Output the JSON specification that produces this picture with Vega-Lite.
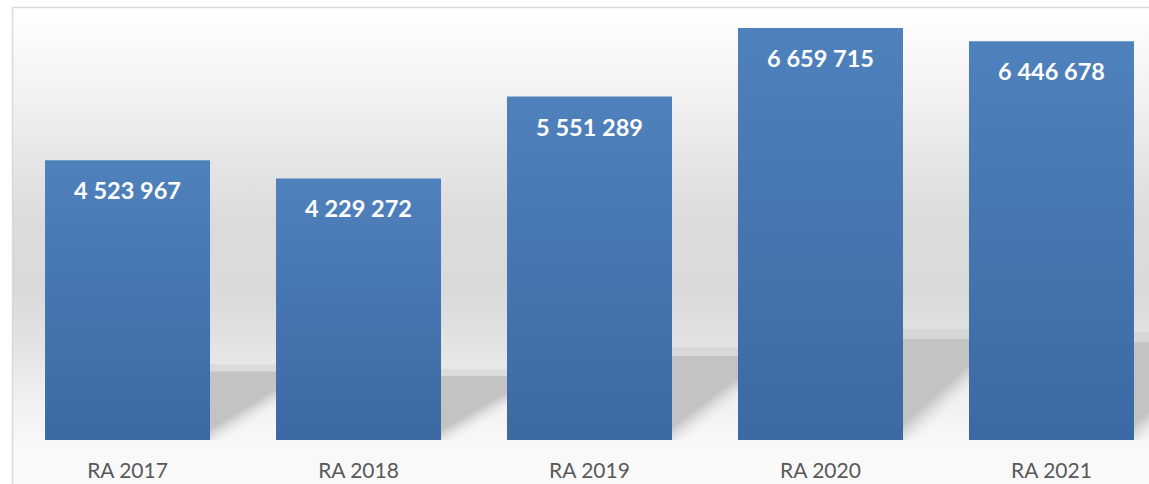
{
  "$schema": "https://vega.github.io/schema/vega-lite/v6.json",
  "width": 1137,
  "height": 477,
  "autosize": {"type": "none"},
  "padding": {"left": 12, "top": 7, "right": 0, "bottom": 0},
  "background": "#ffffff",
  "config": {
    "font": "Lato",
    "locale": {"number": {"decimal": ",", "thousands": " ", "grouping": [3], "currency": ["", ""]}},
    "view": {
      "stroke": null,
      "fill": {
        "gradient": "linear", "x1": 0, "y1": 0, "x2": 0, "y2": 1,
        "stops": [
          {"offset": 0, "color": "#ffffff"},
          {"offset": 0.195, "color": "#f1f1f1"},
          {"offset": 0.45, "color": "#dbdbdb"},
          {"offset": 0.6, "color": "#dadada"},
          {"offset": 0.72, "color": "#e4e4e4"},
          {"offset": 0.83, "color": "#f1f1f1"},
          {"offset": 0.91, "color": "#f8f8f8"},
          {"offset": 1, "color": "#fafafa"}
        ]
      }
    }
  },
  "data": {
    "values": [
      {"year": "RA 2017", "value": 4523967},
      {"year": "RA 2018", "value": 4229272},
      {"year": "RA 2019", "value": 5551289},
      {"year": "RA 2020", "value": 6659715},
      {"year": "RA 2021", "value": 6446678}
    ]
  },
  "layer": [
    {
      "mark": {
        "type": "bar",
        "xOffset": 70,
        "clip": true,
        "opacity": 0.35,
        "fill": {
          "gradient": "linear", "x1": 0.3935, "y1": 0.86, "x2": 0.8065, "y2": 1.14,
          "stops": [
            {"offset": 0, "color": "rgba(195,195,195,1)"},
            {"offset": 0.3, "color": "rgba(195,195,195,1)"},
            {"offset": 0.7, "color": "rgba(248,248,248,0)"},
            {"offset": 1, "color": "rgba(248,248,248,0)"}
          ]
        }
      },
      "encoding": {
        "x": {"field": "year", "type": "nominal", "sort": null, "axis": null,
              "scale": {"paddingInner": 0.2857, "paddingOuter": 0.104, "align": 0.6875, "round": false}},
        "y": {"field": "value", "type": "quantitative", "axis": null,
              "scale": {"domain": [-2634074, 25925926], "zero": false, "nice": false}},
        "y2": {"datum": 0}
      }
    },
    {
      "mark": {
        "type": "bar",
        "xOffset": 66,
        "clip": true,
        "fill": {
          "gradient": "linear", "x1": 0.3935, "y1": 0.86, "x2": 0.8065, "y2": 1.14,
          "stops": [
            {"offset": 0, "color": "rgba(195,195,195,1)"},
            {"offset": 0.32, "color": "rgba(195,195,195,1)"},
            {"offset": 0.68, "color": "rgba(248,248,248,0)"},
            {"offset": 1, "color": "rgba(248,248,248,0)"}
          ]
        }
      },
      "encoding": {
        "x": {"field": "year", "type": "nominal", "sort": null, "axis": null},
        "y": {"field": "value", "type": "quantitative", "axis": null,
              "scale": {"domain": [-2902857, 28571429], "zero": false, "nice": false}},
        "y2": {"datum": 0}
      }
    },
    {
      "mark": {
        "type": "bar",
        "fill": {
          "gradient": "linear", "x1": 0, "y1": 0, "x2": 0, "y2": 1,
          "stops": [
            {"offset": 0, "color": "#4f81bd"},
            {"offset": 1, "color": "#3c69a3"}
          ]
        }
      },
      "encoding": {
        "x": {"field": "year", "type": "nominal", "sort": null,
              "axis": {"orient": "bottom", "title": null, "labelAngle": 0, "labelFont": "Lato", "labelFontSize": 21,
                       "labelColor": "#595959", "labelBaseline": "alphabetic", "labelPadding": 37,
                       "ticks": false, "tickSize": 0, "domain": false, "grid": false, "offset": -44}},
        "y": {"field": "value", "type": "quantitative",
              "axis": {"orient": "left", "title": null, "labels": false, "ticks": false, "grid": false,
                       "domain": true, "domainColor": "#d9d9d9", "domainWidth": 1.5},
              "scale": {"domain": [-711200, 7000000], "zero": false, "nice": false}},
        "y2": {"datum": 0}
      }
    },
    {
      "mark": {"type": "text", "color": "#ffffff", "font": "Lato", "fontWeight": "bold", "fontSize": 23.5,
               "baseline": "alphabetic", "align": "center", "dy": 39},
      "encoding": {
        "x": {"field": "year", "type": "nominal", "sort": null,
              "axis": {"orient": "top", "title": null, "labels": false, "ticks": false, "grid": false,
                       "domain": true, "domainColor": "#d9d9d9", "domainWidth": 1.5}},
        "y": {"field": "value", "type": "quantitative", "axis": null,
              "scale": {"domain": [-711200, 7000000], "zero": false, "nice": false}},
        "text": {"field": "value", "type": "quantitative", "format": ",d"}
      }
    }
  ],
  "resolve": {"scale": {"y": "independent"}, "axis": {"x": "independent", "y": "independent"}}
}
